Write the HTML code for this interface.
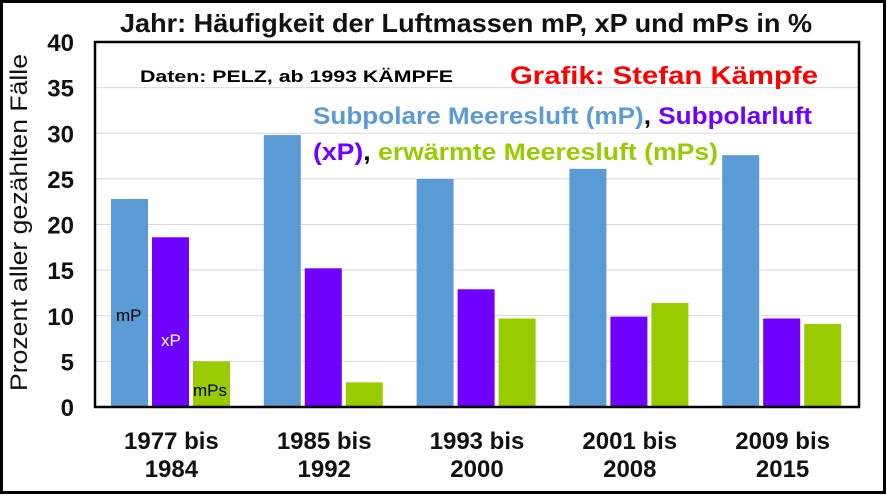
<!DOCTYPE html>
<html><head><meta charset="utf-8"><style>
body{margin:0;background:#fff}
svg{display:block;font-family:"Liberation Sans",sans-serif}
</style></head><body>
<svg width="887" height="496">
<rect x="1.5" y="1.5" width="883" height="491" fill="#fff" stroke="#000" stroke-width="3"/>
<text x="120" y="32" font-size="26" font-weight="bold" fill="#111" textLength="692" lengthAdjust="spacingAndGlyphs">Jahr: Häufigkeit der Luftmassen mP, xP und mPs in %</text>
<g id="grid"></g>
<g id="bars"></g>
<rect x="95" y="42" width="764" height="365" fill="none" stroke="#000" stroke-width="2.5"/>
<g id="yt"></g><g id="xt"></g>
<text transform="translate(27,391) rotate(-90)" font-size="24" fill="#111" textLength="337" lengthAdjust="spacingAndGlyphs">Prozent aller gezählten Fälle</text>
<text x="140" y="82" font-size="17" font-weight="bold" fill="#000" textLength="313" lengthAdjust="spacingAndGlyphs">Daten: PELZ, ab 1993 KÄMPFE</text>
<text x="510" y="84" font-size="25" font-weight="bold" fill="#ff0000" textLength="308" lengthAdjust="spacingAndGlyphs">Grafik: Stefan Kämpfe</text>
<text x="313" y="124" font-size="24" font-weight="bold" textLength="499" lengthAdjust="spacingAndGlyphs"><tspan fill="#5b9bd5">Subpolare Meeresluft (mP)</tspan><tspan fill="#000">, </tspan><tspan fill="#7000ff">Subpolarluft</tspan></text>
<text x="313" y="160" font-size="24" font-weight="bold" textLength="405" lengthAdjust="spacingAndGlyphs"><tspan fill="#7000ff">(xP)</tspan><tspan fill="#000">, </tspan><tspan fill="#99cc00">erwärmte Meeresluft (mPs)</tspan></text>
<text x="116" y="321" font-size="17" fill="#000">mP</text>
<text x="161" y="346" font-size="17" fill="#fff">xP</text>
<text x="193" y="396" font-size="17" fill="#000">mPs</text>
</svg>
<script>
const categories=[["1977 bis","1984"],["1985 bis","1992"],["1993 bis","2000"],["2001 bis","2008"],["2009 bis","2015"]];
const mP=[22.8,29.8,25.0,26.1,27.6];
const xP=[18.6,15.2,12.9,9.9,9.7];
const mPs=[5.0,2.7,9.7,11.4,9.1];
const yTicks=[0,5,10,15,20,25,30,35,40];
const NS="http://www.w3.org/2000/svg";
const x0=95,y0=407,pw=764,ph=365,ymax=40;
const gw=pw/categories.length;
const ys=v=>y0-v/ymax*ph;
function mk(t,a,p){const e=document.createElementNS(NS,t);for(const k in a)e.setAttribute(k,a[k]);p.appendChild(e);return e;}
const grid=document.getElementById('grid'),yt=document.getElementById('yt'),bars=document.getElementById('bars'),xt=document.getElementById('xt');
yTicks.forEach(v=>{
 if(v>0&&v<40){const l=mk('line',{x1:x0,x2:x0+pw,y1:ys(v),y2:ys(v),stroke:'#d9d9d9','stroke-width':1},grid);
 
 }
 const t=mk('text',{x:74,y:ys(v)+9,'text-anchor':'end','font-size':24,'font-weight':'bold',fill:'#111'},yt);t.textContent=v;
 
 
});
const series=[[mP,'#5b9bd5','mp'],[xP,'#7000ff','xp'],[mPs,'#99cc00','mps']];
categories.forEach((c,i)=>{
 series.forEach((s,j)=>{
  const v=s[0][i];
  const r=mk('rect',{x:x0+i*gw+16+j*41,y:ys(v),width:37,height:v/ymax*ph,fill:s[1]},bars);
  
  
 });
 const t=mk('text',{x:x0+i*gw+gw/2,y:449,'text-anchor':'middle','font-size':24,'font-weight':'bold',fill:'#111'},xt);
 
 
 mk('tspan',{x:x0+i*gw+gw/2,dy:0},t).textContent=c[0];
 mk('tspan',{x:x0+i*gw+gw/2,dy:28},t).textContent=c[1];
});
</script>
</body></html>
